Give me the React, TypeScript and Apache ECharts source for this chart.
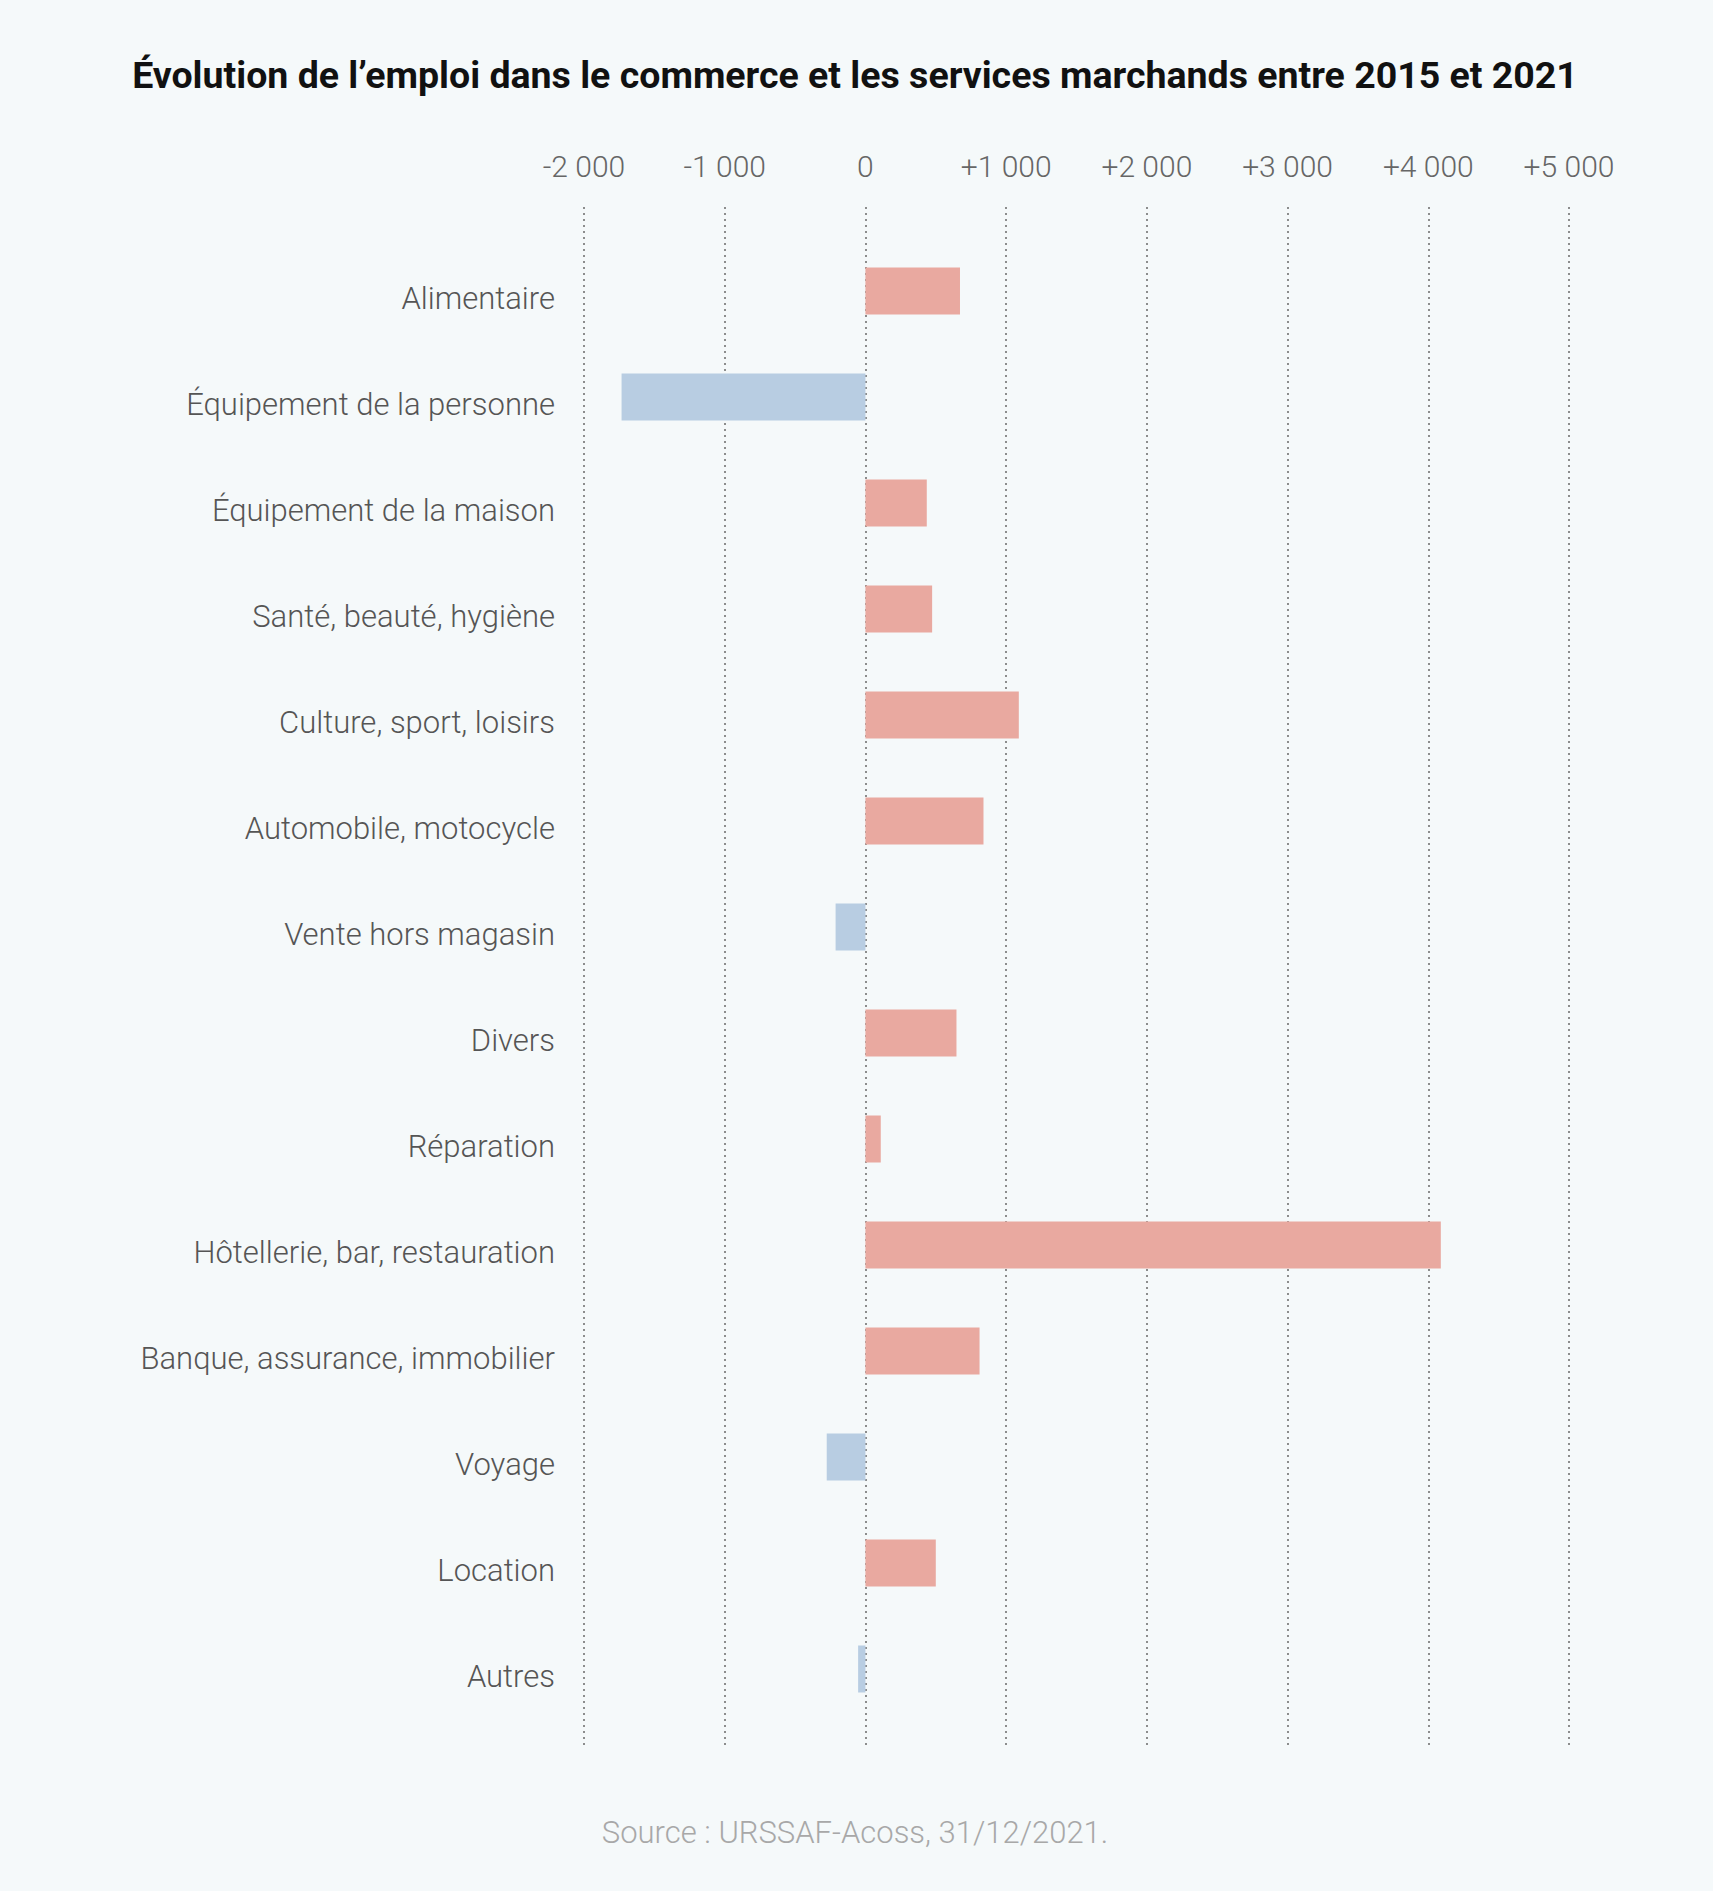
import React, { useEffect, useRef } from "react";
import * as echarts from "echarts";

const categories = [
  "Alimentaire",
  "Équipement de la personne",
  "Équipement de la maison",
  "Santé, beauté, hygiène",
  "Culture, sport, loisirs",
  "Automobile, motocycle",
  "Vente hors magasin",
  "Divers",
  "Réparation",
  "Hôtellerie, bar, restauration",
  "Banque, assurance, immobilier",
  "Voyage",
  "Location",
  "Autres",
];

const values = [672, -1733, 436, 474, 1090, 839, -212, 647, 109, 4089, 811, -275, 500, -52];

const tickMin = -2000;
const tickMax = 5000;
const tickStep = 1000;

const titleText = "Évolution de l’emploi dans le commerce et les services marchands entre 2015 et 2021";
const sourceText = "Source : URSSAF-Acoss, 31/12/2021.";

const POS = "#e9a9a0";
const NEG = "#b8cde2";

function fmtTick(v: number): string {
  if (v === 0) return "0";
  const abs = Math.abs(v);
  const s = abs >= 1000 ? Math.floor(abs / 1000) + " " + String(abs % 1000).padStart(3, "0") : String(abs);
  return (v > 0 ? "+" : "-") + s;
}

export default function App() {
  const ref = useRef<HTMLDivElement>(null);
  useEffect(() => {
    if (!ref.current) return;
    const chart = echarts.init(ref.current, null, { renderer: "svg" });
    const font = "Roboto";
    chart.setOption({
      animation: false,
      backgroundColor: "#f5f9fa",
      grid: [
        { left: 584, right: 144, top: 207, bottom: 142 },
        { left: 584, right: 144, top: 238, bottom: 169 },
      ],
      xAxis: [
        {
          type: "value",
          gridIndex: 0,
          position: "top",
          min: tickMin,
          max: tickMax,
          interval: tickStep,
          axisLine: { show: false },
          axisTick: { show: false },
          axisLabel: {
            formatter: (v: number) => fmtTick(v),
            fontFamily: font,
            fontWeight: 300,
            fontSize: 30,
            color: "#666",
            margin: 26,
          },
          splitLine: {
            show: true,
            lineStyle: { color: "#6a6a6a", width: 1.5, type: [2, 4] },
          },
        },
        {
          type: "value",
          gridIndex: 1,
          min: tickMin,
          max: tickMax,
          interval: tickStep,
          show: false,
          splitLine: { show: false },
        },
      ],
      yAxis: [
        { type: "value", gridIndex: 0, show: false, min: 0, max: 1, splitLine: { show: false } },
        {
          type: "category",
          gridIndex: 1,
          data: categories,
          inverse: true,
          axisLine: { show: false },
          axisTick: { show: false },
          splitLine: { show: false },
          axisLabel: {
            fontFamily: font,
            fontWeight: 300,
            fontSize: 31,
            color: "#555",
            margin: 29,
            verticalAlign: "top",
            lineHeight: 14,
          },
        },
      ],
      series: [
        { type: "scatter", xAxisIndex: 0, yAxisIndex: 0, data: [], silent: true },
        {
          type: "bar",
          xAxisIndex: 1,
          yAxisIndex: 1,
          barWidth: 47,
          data: values.map((v) => ({
            value: v,
            itemStyle: { color: v >= 0 ? POS : NEG },
          })),
        },
      ],
      graphic: [
        {
          type: "text",
          x: 855,
          y: 75,
          style: {
            text: titleText,
            fontFamily: font,
            fontWeight: "bold",
            fontSize: 37.5,
            fill: "#111",
            textAlign: "center",
            textVerticalAlign: "middle",
          },
        },
        {
          type: "text",
          x: 855,
          y: 1832,
          style: {
            text: sourceText,
            fontFamily: font,
            fontWeight: 300,
            fontSize: 31,
            fill: "#a8a8a8",
            textAlign: "center",
            textVerticalAlign: "middle",
          },
        },
      ],
    });
    return () => chart.dispose();
  }, []);
  return (
    <div
      ref={ref}
      style={{ position: "absolute", left: 0, top: 0, width: 1713, height: 1891 }}
    />
  );
}
